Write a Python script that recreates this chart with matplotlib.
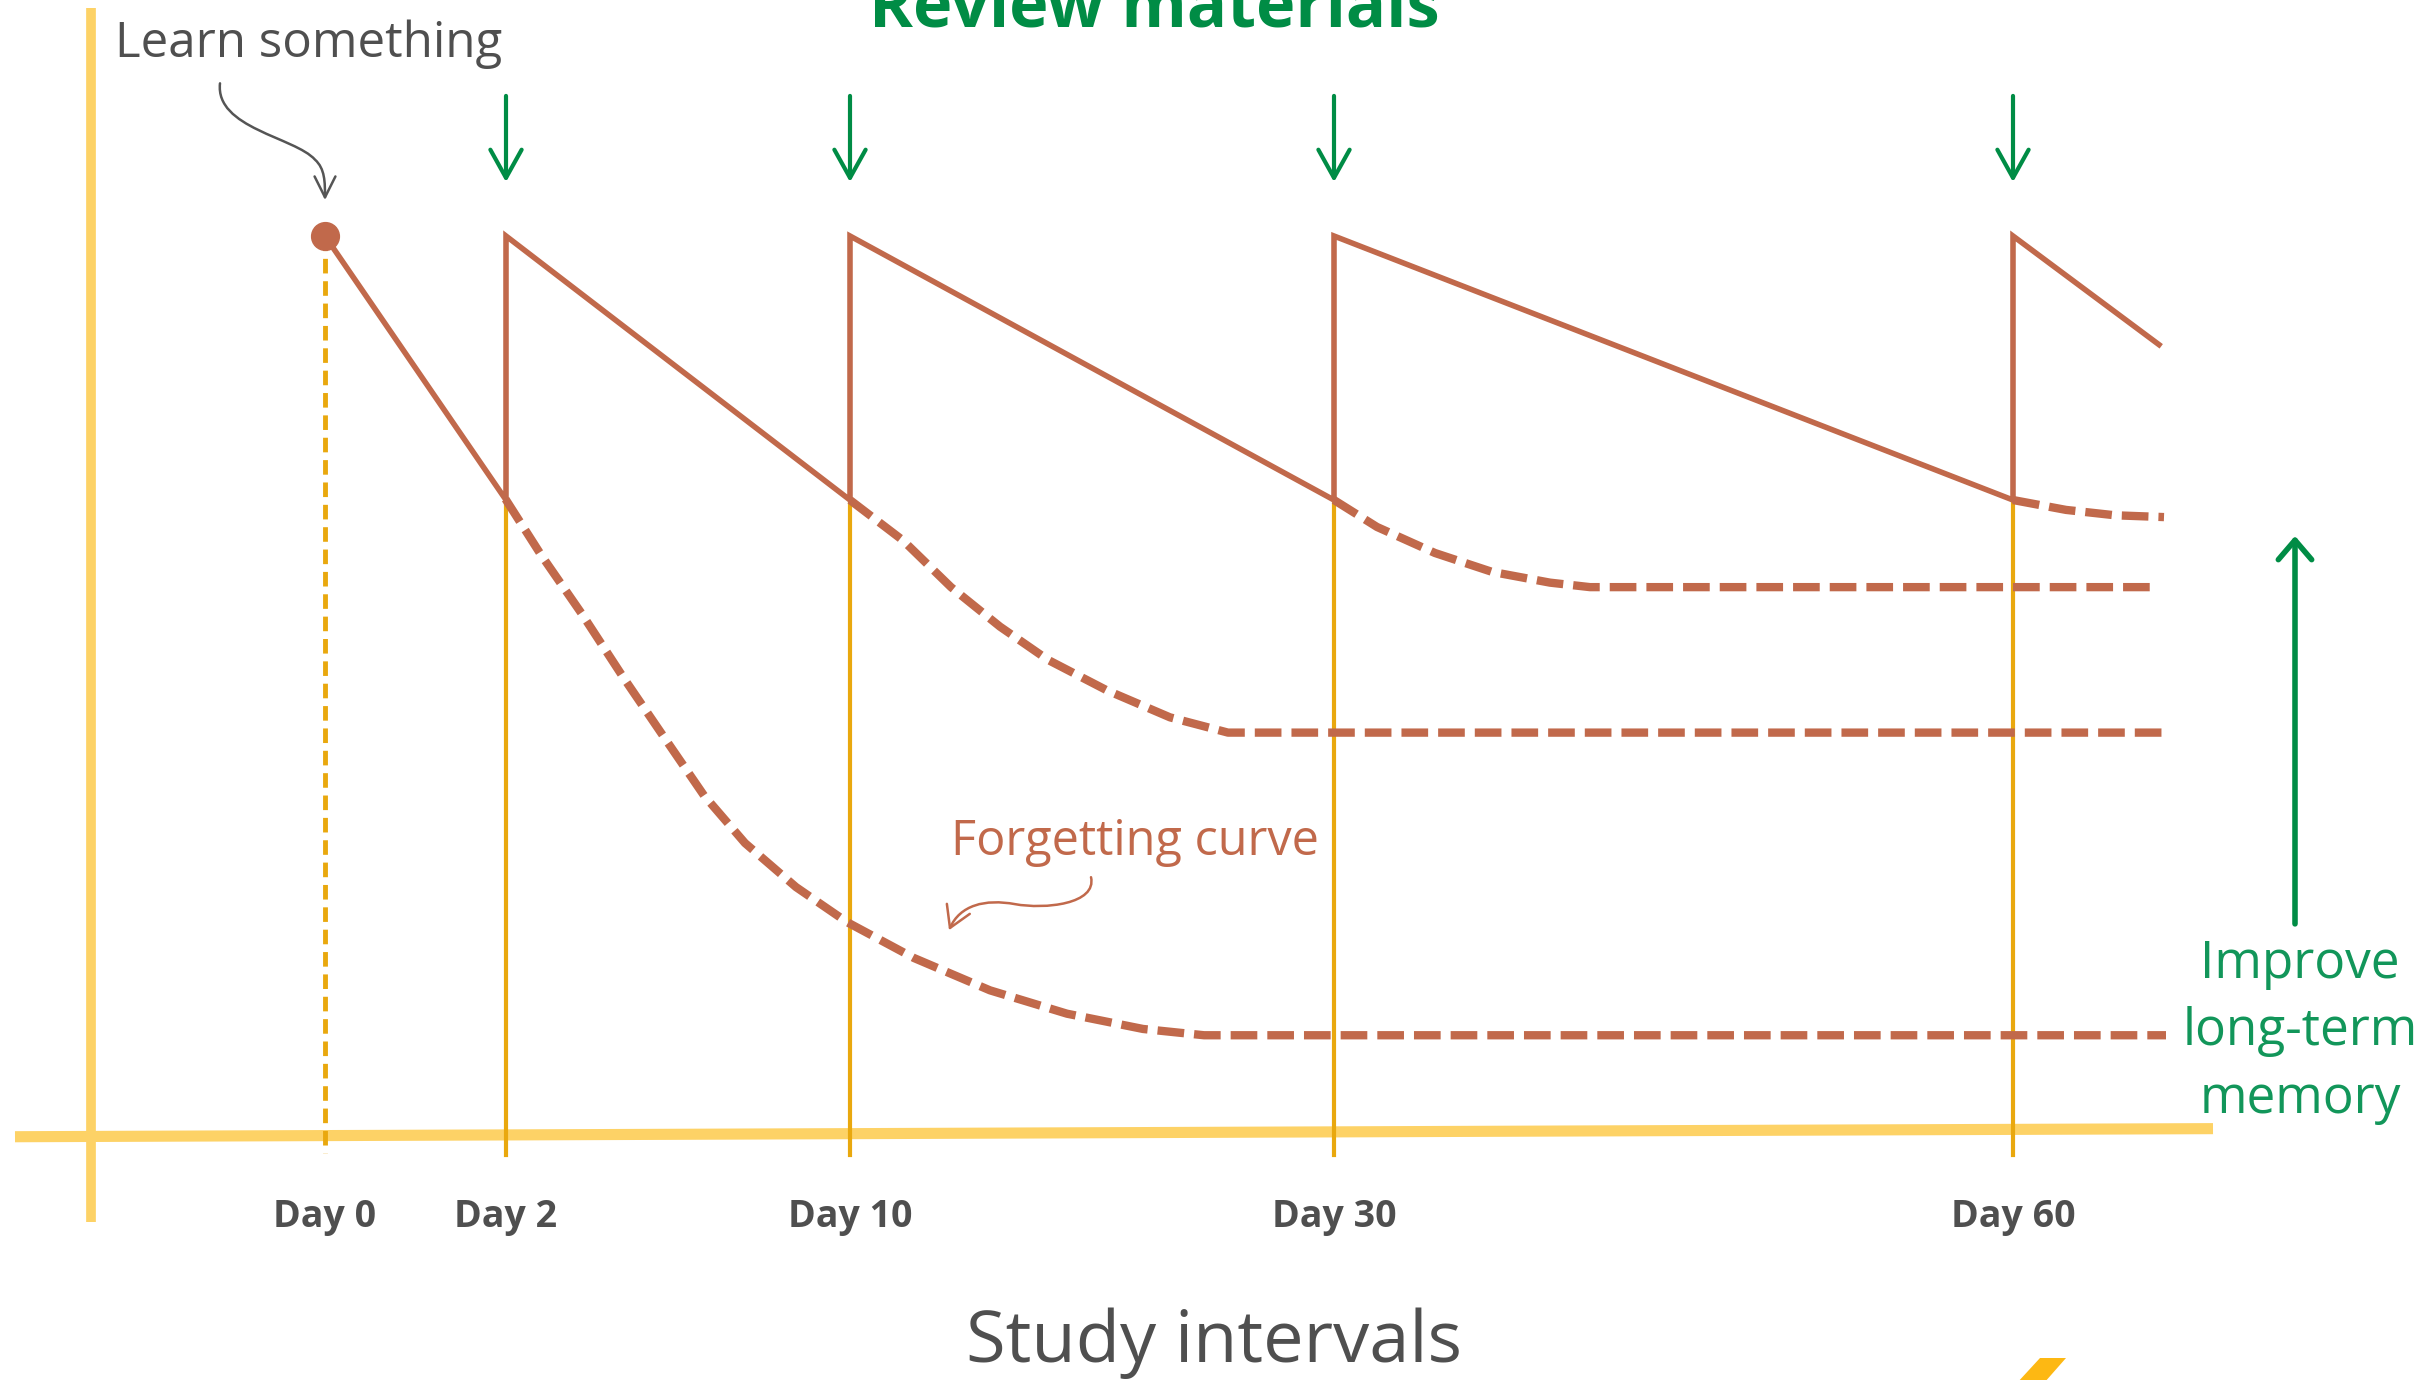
import matplotlib
matplotlib.use("Agg")
import matplotlib.pyplot as plt
from matplotlib.path import Path
from matplotlib.patches import FancyArrowPatch, Polygon

plt.rcParams['font.family'] = ['Open Sans', 'DejaVu Sans']

# review days and where they sit on the timeline
day_labels = ['Day 0', 'Day 2', 'Day 10', 'Day 30', 'Day 60']
day_pos = [0, 1.81, 5.25, 10.09, 16.88]
review_pos = day_pos[1:]
peak = 100
review_level = 70.6

# solid retention (sawtooth) after each review
saw_x = [0, 1.81, 1.81, 5.25, 5.25, 10.09, 10.09, 16.88, 16.88, 18.34]
saw_y = [100, 70.6, 100, 70.6, 100, 70.6, 100, 70.6, 100, 87.9]

# dashed forgetting curves if no further review
curve1_x = [1.805, 2.16, 2.57, 2.98, 3.39, 3.79, 4.20, 4.71, 5.22, 5.89, 6.65, 7.42, 8.18, 8.79, 18.41]
curve1_y = [70.7, 64.5, 57.9, 50.9, 44.2, 37.7, 32.4, 27.5, 23.6, 19.6, 16.0, 13.4, 11.7, 11.0, 11.0]
curve2_x = [5.25, 5.78, 6.26, 6.75, 7.23, 7.82, 8.45, 9.03, 18.38]
curve2_y = [70.6, 66.1, 60.9, 56.5, 52.8, 49.4, 46.4, 44.7, 44.7]
curve3_x = [10.09, 10.52, 11.10, 11.67, 12.25, 12.65, 18.34]
curve3_y = [70.6, 67.6, 64.7, 62.6, 61.4, 60.9, 60.9]
curve4_x = [16.88, 17.41, 17.90, 18.39]
curve4_y = [70.6, 69.5, 68.9, 68.7]

brown = '#C1694B'
yellow_axis = '#FDD266'
yellow_line = '#E9A80E'
green = '#008C45'
green_txt = '#12965A'
gray = '#4F4F4F'

fig = plt.figure(figsize=(24.35, 13.8), dpi=100)
ax = fig.add_axes([0, 0, 1, 1])
ax.set_xlim(-3.25, 21.10)
ax.set_ylim(-27.39, 126.28)
ax.axis('off')

# axes drawn by hand (light yellow)
ax.plot([-3.10, 18.88], [-0.3, 0.6], color=yellow_axis, lw=8, solid_capstyle='butt', zorder=1)
ax.plot([-2.34, -2.34], [125.4, -9.8], color=yellow_axis, lw=7, solid_capstyle='butt', zorder=1)

# review day verticals
ax.plot([day_pos[0], day_pos[0]], [peak, -2.1], color=yellow_line, lw=3.5,
        dashes=(3.0, 1.6), zorder=2)
for x in review_pos:
    ax.plot([x, x], [review_level, -2.3], color=yellow_line, lw=3, zorder=2)

# forgetting curves
for cx, cy in [(curve1_x, curve1_y), (curve2_x, curve2_y), (curve3_x, curve3_y), (curve4_x, curve4_y)]:
    ax.plot(cx, cy, color=brown, lw=6, dashes=(3.2, 1.2), zorder=3)

ax.plot(saw_x, saw_y, color=brown, lw=4, solid_joinstyle='miter', zorder=4)
ax.plot([day_pos[0]], [peak], 'o', color=brown, ms=20, zorder=5)

# day labels
for x, lab in zip(day_pos, day_labels):
    ax.text(x, -10.36, lab, ha='center', va='baseline', fontsize=27,
            fontweight='bold', color=gray)

ax.text(8.89, -25.4, 'Study intervals', ha='center', va='baseline', fontsize=52, color=gray)
ax.text(8.29, 123.3, 'Review materials', ha='center', va='baseline', fontsize=48,
        fontweight='bold', color=green)
ax.text(-2.10, 119.9, 'Learn something', ha='left', va='baseline', fontsize=35.5, color=gray)
ax.text(6.26, 31.1, 'Forgetting curve', ha='left', va='baseline', fontsize=35, color=brown)
ax.text(19.75, 11.4, 'Improve\nlong-term\nmemory', ha='center', va='center',
        multialignment='center', fontsize=37, color=green_txt, linespacing=1.42)

# review arrows
for x in review_pos:
    ax.annotate('', xy=(x, 106.0), xytext=(x, 115.6),
                arrowprops=dict(arrowstyle='->,head_length=0.45,head_width=0.25',
                                color=green, lw=3, mutation_scale=45,
                                shrinkA=0, shrinkB=0))

# improve arrow
ax.annotate('', xy=(19.70, 66.6), xytext=(19.70, 23.4),
            arrowprops=dict(arrowstyle='->,head_length=0.35,head_width=0.3',
                            color=green, lw=4, mutation_scale=40,
                            shrinkA=0, shrinkB=0))

# curly pointer to starting point
learn_path = Path([(-1.05, 117.0), (-1.10, 112.0), (-0.30, 111.0), (-0.10, 108.5),
                   (0.0, 107.5), (0.0, 106.0), (0.0, 104.0)],
                  [Path.MOVETO, Path.CURVE4, Path.CURVE4, Path.CURVE4,
                   Path.CURVE4, Path.CURVE4, Path.CURVE4])
ax.add_patch(FancyArrowPatch(path=learn_path, arrowstyle='->,head_length=0.5,head_width=0.25',
                             mutation_scale=30, color='#555555', lw=1.8))

forget_path = Path([(7.66, 28.6), (7.72, 25.6), (7.20, 25.0), (6.90, 25.6),
                    (6.60, 26.2), (6.35, 25.5), (6.24, 22.7)],
                   [Path.MOVETO, Path.CURVE4, Path.CURVE4, Path.CURVE4,
                    Path.CURVE4, Path.CURVE4, Path.CURVE4])
ax.add_patch(FancyArrowPatch(path=forget_path, arrowstyle='->,head_length=0.5,head_width=0.3',
                             mutation_scale=30, color=brown, lw=1.8))

# cut-off logo fragment in the corner
corner_x = [17.15, 17.41, 17.20, 16.93]
corner_y = [-24.94, -24.94, -27.6, -27.6]
ax.add_patch(Polygon(list(zip(corner_x, corner_y)), closed=True, color='#FDB813', lw=0))

fig.savefig('out.png', dpi=100, facecolor='white')
